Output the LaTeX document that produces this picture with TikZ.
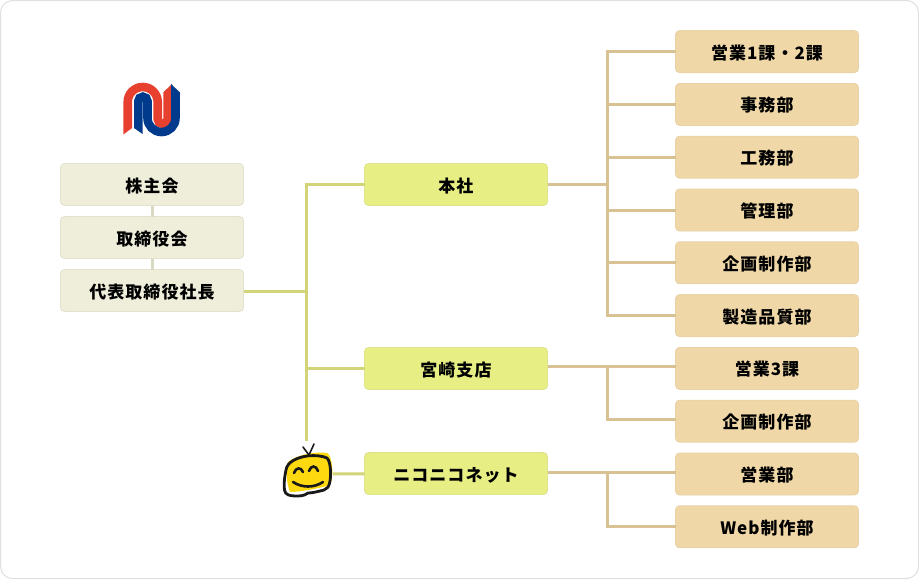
\documentclass[tikz,border=0pt]{standalone}
\usepackage{fontspec}
\setmainfont[LetterSpace=6]{Noto Sans CJK JP}
\usepackage{tikz}
\usetikzlibrary{matrix}
\definecolor{leftfill}{HTML}{EFEEDA}
\definecolor{leftedge}{HTML}{E3E2CC}
\definecolor{midfill}{HTML}{E7EE84}
\definecolor{midedge}{HTML}{DFE38F}
\definecolor{rightfill}{HTML}{EFD7A7}
\definecolor{rightedge}{HTML}{E8D2A6}
\definecolor{stemline}{HTML}{D9D9C3}
\definecolor{greenline}{HTML}{D2D577}
\definecolor{tanline}{HTML}{D8C193}
\definecolor{logored}{HTML}{E8402F}
\definecolor{logoblue}{HTML}{003A8C}
\definecolor{tvyellow}{HTML}{FFD90F}
\tikzset{
	orgbox/.style={rectangle,rounded corners=4pt,minimum width=183pt,minimum height=42pt,inner sep=0pt,outer sep=0pt,text height=18pt,text depth=3pt,font=\fontsize{17}{17}\selectfont\bfseries,line width=0.8pt},
	leftbox/.style={orgbox,draw=leftedge,fill=leftfill},
	midbox/.style={orgbox,draw=midedge,fill=midfill},
	rightbox/.style={orgbox,draw=rightedge,fill=rightfill},
	elbow/.style={to path={|- (\tikztotarget)}}
}
\begin{document}
\begin{tikzpicture}[x=1pt,y=-1pt]
\useasboundingbox (0,0) rectangle (919,579);
\draw[draw=black!12,fill=white,rounded corners=12pt,line width=1pt] (0.5,0.5) rectangle (918.5,578.5);
\matrix (m) at (152,237.5) [matrix of nodes,row sep=10.2pt,nodes={leftbox},inner sep=0pt]
{
	株主会 \\
	取締役会 \\
	代表取締役社長 \\};
\matrix (r) at (767,289.2) [matrix of nodes,row sep=10pt,nodes={rightbox},inner sep=0pt]
{
	営業1課・2課 \\
	事務部 \\
	工務部 \\
	管理部 \\
	企画制作部 \\
	製造品質部 \\
	営業3課 \\
	企画制作部 \\
	営業部 \\
	Web制作部 \\};
\node[midbox] (honsha) at (456,184.5) {本社};
\node[midbox] (miyazaki) at (456,368.5) {宮崎支店};
\node[midbox] (niconico) at (456,473.5) {ニコニコネット};
% logo
\begin{scope}[line width=8.6pt]
\draw[logored] (127.7,128.2) -- (127.7,102) arc[start angle=180,end angle=360,radius=15] -- (157.7,119) arc[start angle=180,end angle=0,radius=5] -- (167.7,92);
\fill[logored] (123.4,128) -- (123.4,134.5) -- (132,128) -- cycle;
\fill[logored] (163.4,92.2) -- (172,84) -- (172,92.2) -- cycle;
\draw[logoblue] (138.3,128.2) -- (138.3,101.3) arc[start angle=180,end angle=360,radius=4.6] -- (147.5,118) arc[start angle=180,end angle=0,radius=14] -- (175.5,92.2);
\fill[logoblue] (134,128) -- (142.6,128) -- (142.6,134) -- cycle;
\fill[logoblue] (171.2,92.5) -- (171.2,84) -- (179.8,92.5) -- cycle;
\end{scope}
% tv
\node[minimum width=49pt,minimum height=42pt,inner sep=0pt,outer sep=0pt] (tv) at (308.5,474) {};
\fill[tvyellow] (288,462) .. controls (296,455) and (316,451) .. (327,453) .. controls (332,456) and (333,470) .. (332,477) .. controls (332,482) and (330,485) .. (327,486) .. controls (315,489) and (300,492) .. (290,492) .. controls (286,482) and (286,470) .. (288,462) -- cycle;
\draw[black!90,line width=2.8pt,line join=round] (286,470) .. controls (287,462) and (297,457.5) .. (307,456) .. controls (315,455) and (323,456) .. (327,458) .. controls (331,462) and (331,475) .. (330,481) .. controls (329,487) and (327,489) .. (324,490) .. controls (316,492) and (312,493) .. (308,493) .. controls (304,496) and (300,496) .. (296,496) .. controls (290,496) and (285,495) .. (284.5,490) .. controls (283.5,482) and (285,475) .. (286,470) -- cycle;
\draw[black!90,line width=1.6pt,line cap=round] (303,447) -- (309,455) -- (314,444);
\draw[black!90,line width=2.6pt,line cap=round] (294,473) .. controls (296,467) and (301,467) .. (303,472);
\draw[black!90,line width=2.6pt,line cap=round] (309,471) .. controls (311,465) and (316,465) .. (318,471);
\draw[black!90,line width=2.6pt,line cap=round] (293,482) .. controls (302,488) and (314,488) .. (323,482);
% connectors
\coordinate (trunk) at (306.5,291.5);
\coordinate (trunktop) at (306.5,441);
\coordinate (honshaj) at (607.5,184.5);
\coordinate (miyazakij) at (607.5,366.5);
\coordinate (niconicoj) at (607.5,472.5);
\path[stemline,line width=3pt]
(m-1-1) edge (m-2-1)
(m-2-1) edge (m-3-1);
\path[greenline,line width=3pt]
(m-3-1.east|-trunk) edge (trunk)
(trunk) edge[elbow] (honsha)
(trunk) edge[elbow] (miyazaki)
(trunk) edge (trunktop)
(tv) edge (niconico);
\path[tanline,line width=3pt]
(honsha) edge (honshaj)
(honshaj) edge[elbow] (r-1-1)
(honshaj) edge[elbow] (r-2-1)
(honshaj) edge[elbow] (r-3-1)
(honshaj) edge[elbow] (r-4-1)
(honshaj) edge[elbow] (r-5-1)
(honshaj) edge[elbow] (r-6-1)
(miyazaki.east|-miyazakij) edge (r-7-1.west|-miyazakij)
(miyazakij) edge[elbow] ([yshift=1.5pt]r-8-1.west)
(niconico.east|-niconicoj) edge (r-9-1.west|-niconicoj)
(niconicoj) edge[elbow] (r-10-1);
\end{tikzpicture}
\end{document}
